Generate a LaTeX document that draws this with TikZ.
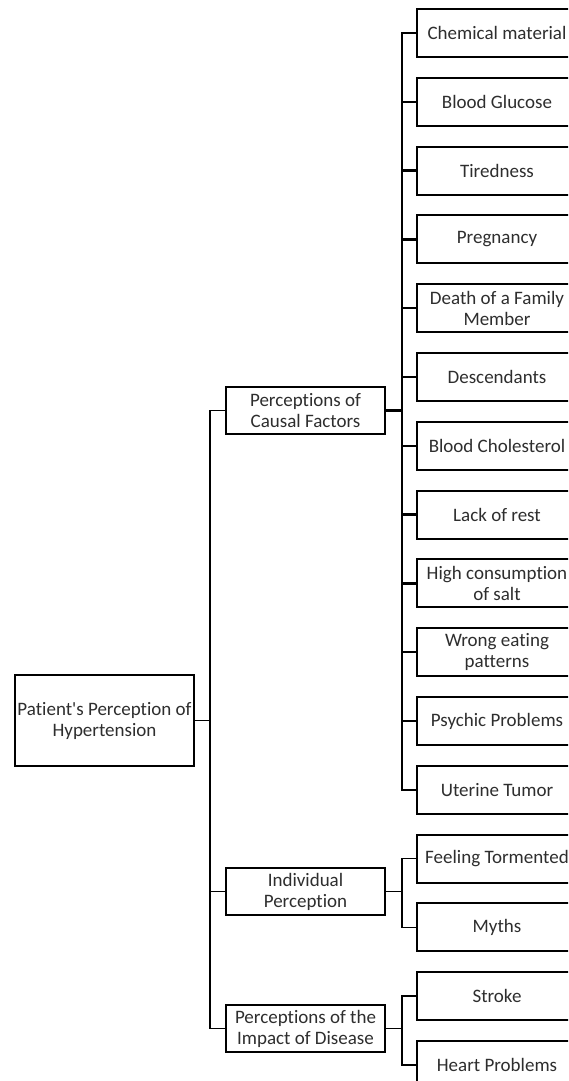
\documentclass[tikz,border=0pt]{standalone}
\usepackage{fontspec}
\setmainfont[Ligatures={TeX,NoCommon}]{Carlito}
\begin{document}
\begin{tikzpicture}[x=1pt,y=-1pt,
  box/.style={draw=black, line width=2pt, fill=white, align=center, inner sep=0pt,
    font=\fontsize{19}{21}\selectfont, text=black!82},
  leafbox/.style={box, minimum width=160pt, minimum height=48pt},
  midbox/.style={box, minimum width=159pt, minimum height=47pt},
  rootbox/.style={box, minimum width=179pt, minimum height=91pt},
  link/.style={draw=black, line width=1.7pt},
  spine/.style={draw=black, line width=2.3pt}]
\useasboundingbox (0,0) rectangle (568,1081);
\clip (0,0) rectangle (568,1081);
\fill[white] (0,0) rectangle (568,1081);

% spine positions
\coordinate (rs) at (210,0);
\coordinate (ms) at (402,0);

% root
\node[rootbox] (root) at (104.5,720.5) {Patient\textquotesingle s Perception of\\Hypertension};

% middle
\node[midbox] (causal) at (305.5,410.5) {Perceptions of\\Causal Factors};
\node[midbox] (indiv) at (305.5,891.5) {Individual\\Perception};
\node[midbox] (impact) at (305.5,1028.5) {Perceptions of the\\Impact of Disease};

% leaves
\foreach \i/\t in {0/Chemical material, 1/Blood Glucose, 2/Tiredness, 3/Pregnancy,
  4/{Death of a Family\\Member}, 5/Descendants, 6/Blood Cholesterol, 7/Lack of rest,
  8/{High consumption\\of salt}, 9/{Wrong eating\\patterns}, 10/Psychic Problems,
  11/Uterine Tumor, 12/Feeling Tormented, 13/Myths, 14/Stroke, 15/Heart Problems}{
  \node[leafbox] (l\i) at (497,{33+68.8*\i}) {\t};
}

% root connectors
\foreach \m in {causal,indiv,impact}{
  \draw[link] (root.east) -- (root.east -| rs) |- (\m.west);
}

% causal connectors
\foreach \i in {0,...,11}{
  \draw[spine] (causal.east) -- (causal.east -| ms) |- (l\i.west);
}
% individual connectors
\foreach \i in {12,13}{
  \draw[link] (indiv.east) -- (indiv.east -| ms) |- (l\i.west);
}
% impact connectors
\foreach \i in {14,15}{
  \draw[link] (impact.east) -- (impact.east -| ms) |- (l\i.west);
}
\end{tikzpicture}
\end{document}
